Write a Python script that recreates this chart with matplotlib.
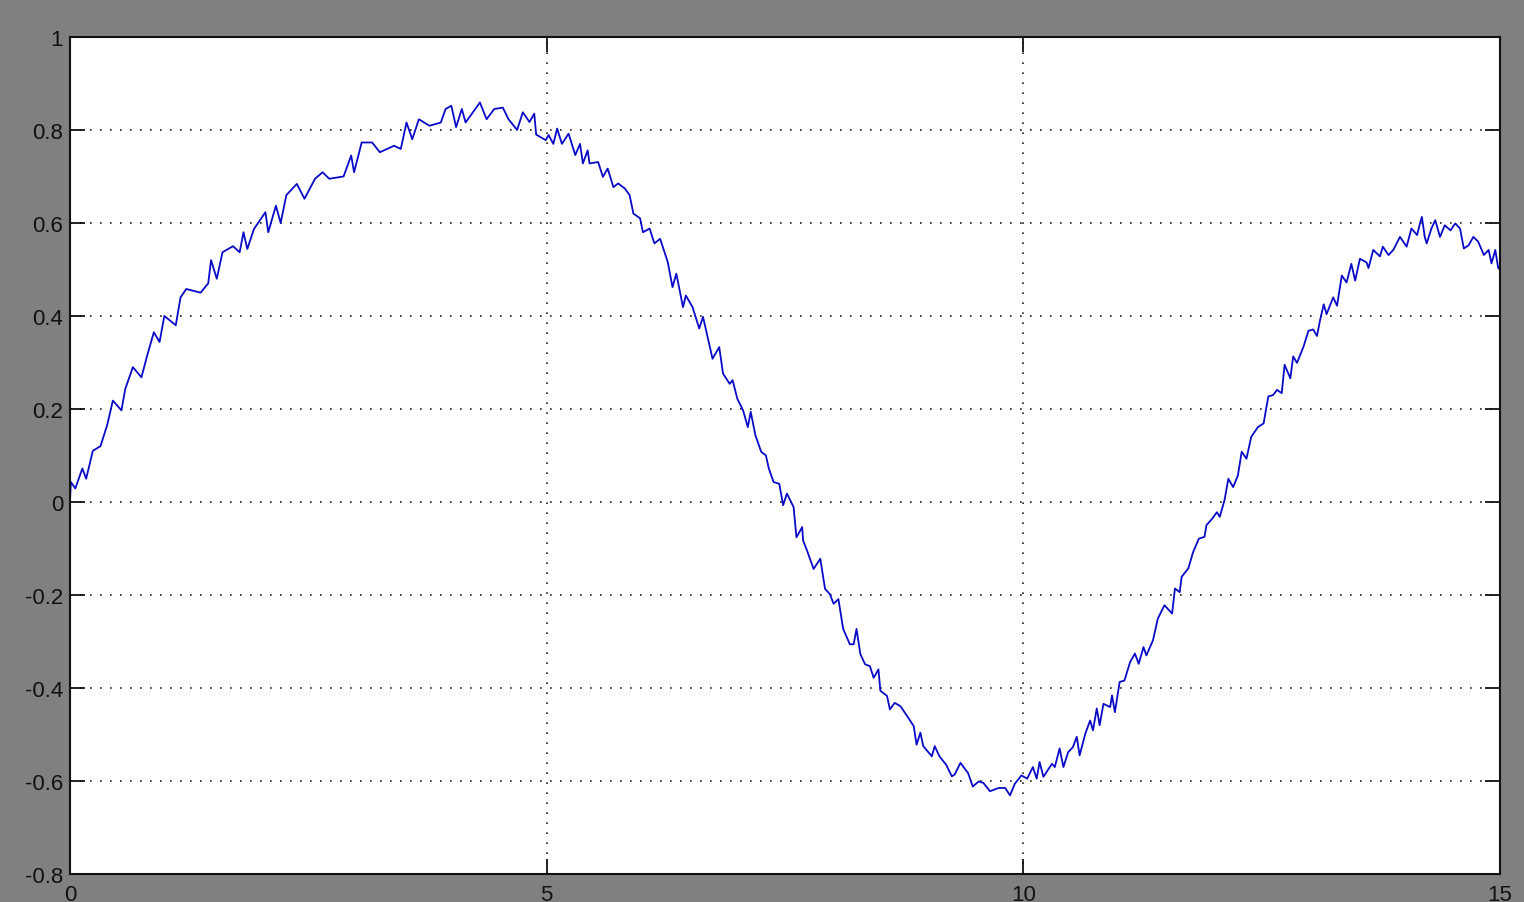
import matplotlib
matplotlib.use("Agg")
import matplotlib.pyplot as plt

plt.rcParams['font.family'] = ['Liberation Sans', 'DejaVu Sans']

# time (s) and signal values
t = [0.0, 0.01, 0.056, 0.13, 0.17, 0.24, 0.32, 0.39, 0.45, 0.54, 0.58, 0.66, 0.75, 0.81, 0.88, 0.94,
     0.99, 1.11, 1.16, 1.22, 1.37, 1.45, 1.48, 1.54, 1.60, 1.71, 1.78, 1.82, 1.86, 1.93, 2.05, 2.08,
     2.16, 2.21, 2.27, 2.38, 2.46, 2.57, 2.65, 2.72, 2.87, 2.95, 2.98, 3.06, 3.17, 3.25, 3.40, 3.47,
     3.53, 3.59, 3.66, 3.77, 3.89, 3.94, 4.00, 4.05, 4.11, 4.15, 4.30, 4.37, 4.45, 4.54, 4.60, 4.69,
     4.75,
     4.82, 4.87, 4.89, 4.99, 5.02, 5.07, 5.11, 5.16, 5.23, 5.30, 5.35, 5.38, 5.43, 5.45, 5.54, 5.59,
     5.64, 5.70, 5.75, 5.82, 5.87, 5.91, 5.98, 6.01, 6.08, 6.13, 6.19, 6.27, 6.32, 6.36, 6.43, 6.46,
     6.53, 6.60, 6.64, 6.74, 6.81, 6.85, 6.92, 6.95, 7.00, 7.06, 7.11, 7.14, 7.19, 7.25, 7.30, 7.33,
     7.38, 7.44,
     7.48, 7.52, 7.59, 7.62, 7.68, 7.69, 7.73, 7.80, 7.87, 7.92, 7.97, 8.01, 8.06, 8.11, 8.18, 8.22,
     8.25, 8.29, 8.34, 8.39, 8.43, 8.48, 8.50, 8.57, 8.60, 8.65, 8.71, 8.78, 8.85, 8.88, 8.92, 8.95,
     9.04, 9.07, 9.12, 9.19, 9.25, 9.28, 9.34, 9.42, 9.47, 9.53, 9.58, 9.65, 9.74,
     9.81, 9.86, 9.91, 9.98, 10.04, 10.10, 10.14, 10.17, 10.21, 10.30, 10.33, 10.38, 10.42, 10.47,
     10.52, 10.56, 10.59, 10.65, 10.70, 10.73, 10.77, 10.80, 10.84, 10.91, 10.93, 10.96, 11.01, 11.06,
     11.12, 11.17, 11.21, 11.26, 11.29, 11.36, 11.41, 11.48, 11.56, 11.59, 11.64, 11.66, 11.73, 11.78,
     11.84, 11.90, 11.92, 11.98, 12.03, 12.06, 12.11, 12.15, 12.20, 12.25, 12.29, 12.34, 12.39, 12.46,
     12.52, 12.55, 12.57, 12.62, 12.66, 12.71, 12.74, 12.80, 12.83, 12.87, 12.94, 12.99, 13.04, 13.08,
     13.11, 13.15, 13.18, 13.25, 13.29, 13.34, 13.39, 13.44, 13.48, 13.53, 13.60,
     13.62, 13.67, 13.74, 13.77, 13.83, 13.88, 13.95, 14.02, 14.07, 14.13, 14.16, 14.18, 14.21, 14.23,
     14.28, 14.32, 14.37, 14.42, 14.48, 14.53, 14.58, 14.62, 14.67, 14.72, 14.77, 14.83, 14.88, 14.91,
     14.95, 14.98, 15.0]

y = [0.0, 0.043, 0.029, 0.072, 0.05, 0.11, 0.12, 0.165, 0.218, 0.197, 0.243, 0.29, 0.268, 0.315, 0.365, 0.344,
     0.40, 0.38, 0.44, 0.458, 0.45, 0.47, 0.52, 0.48, 0.537, 0.55, 0.537, 0.58, 0.544, 0.587, 0.623, 0.58,
     0.637, 0.60, 0.66, 0.684, 0.652, 0.695, 0.709, 0.695, 0.70, 0.745, 0.709, 0.773, 0.773, 0.752, 0.766, 0.759,
     0.816, 0.78, 0.823, 0.809, 0.816, 0.845, 0.852, 0.806, 0.845, 0.816, 0.859, 0.823, 0.845, 0.848, 0.823, 0.80,
     0.838,
     0.817, 0.835, 0.79, 0.778, 0.789, 0.77, 0.803, 0.77, 0.792, 0.746, 0.77, 0.728, 0.756, 0.728, 0.731, 0.699,
     0.717, 0.677, 0.685, 0.674, 0.66, 0.62, 0.61, 0.58, 0.588, 0.556, 0.566, 0.516, 0.462, 0.491, 0.419, 0.444,
     0.419, 0.373, 0.398, 0.308, 0.333, 0.276, 0.254, 0.262, 0.222, 0.197, 0.161, 0.194, 0.143, 0.108, 0.10, 0.072,
     0.043, 0.039,
     -0.007, 0.018, -0.011, -0.076, -0.054, -0.083, -0.104, -0.144, -0.122, -0.187, -0.198, -0.219, -0.209, -0.273, -0.306, -0.306,
     -0.273, -0.327, -0.349, -0.353, -0.378, -0.36, -0.406, -0.417, -0.446, -0.432, -0.439, -0.46, -0.482, -0.522, -0.496, -0.525,
     -0.547, -0.525, -0.547, -0.565, -0.59, -0.586, -0.561, -0.583, -0.612, -0.601, -0.604, -0.622, -0.615,
     -0.615, -0.631, -0.606, -0.588, -0.595, -0.57, -0.595, -0.559, -0.591, -0.563, -0.57, -0.53, -0.57, -0.538,
     -0.527, -0.505, -0.545, -0.498, -0.47, -0.491, -0.444, -0.48, -0.434, -0.441, -0.416, -0.452, -0.387, -0.384,
     -0.344, -0.326, -0.348, -0.312, -0.33, -0.297, -0.251, -0.222, -0.24, -0.186, -0.194, -0.161, -0.143, -0.108,
     -0.079, -0.075, -0.05, -0.036, -0.022, -0.032, 0.004, 0.05, 0.032, 0.057, 0.108, 0.093, 0.14, 0.161,
     0.169, 0.205, 0.227, 0.23, 0.241, 0.234, 0.295, 0.266, 0.313, 0.299, 0.335, 0.368, 0.371, 0.357,
     0.389, 0.425, 0.404, 0.44, 0.422, 0.487, 0.472, 0.512, 0.476, 0.523, 0.515,
     0.503, 0.542, 0.528, 0.549, 0.531, 0.542, 0.57, 0.549, 0.588, 0.574, 0.599, 0.613, 0.57, 0.556,
     0.588, 0.606, 0.57, 0.595, 0.584, 0.599, 0.588, 0.545, 0.552, 0.57, 0.56, 0.531, 0.542, 0.513,
     0.542, 0.503, 0.50]

xticks = [0, 5, 10, 15]
yticks = [-0.8, -0.6, -0.4, -0.2, 0, 0.2, 0.4, 0.6, 0.8, 1]
ylabels = ['-0.8', '-0.6', '-0.4', '-0.2', '0', '0.2', '0.4', '0.6', '0.8', '1']

fig = plt.figure(figsize=(15.24, 9.03), dpi=100, facecolor='#808080')
ax = fig.add_axes([0.0459, 0.031, 0.9384, 0.927])
ax.set_facecolor('white')

ax.plot(t, y, color='#0a0ac8', lw=1.3)

ax.set_xlim(0, 15)
ax.set_ylim(-0.8, 1)
ax.set_xticks(xticks)
ax.set_xticklabels([str(v) for v in xticks])
ax.set_yticks(yticks)
ax.set_yticklabels(ylabels)

ax.grid(True, color='#222222', lw=1.2, linestyle=(0, (1, 5)))
ax.tick_params(direction='in', length=11, width=1.3, top=True, right=True,
               labelsize=16, colors='#111111')
ax.tick_params(axis='x', pad=7)
ax.tick_params(axis='y', pad=5)
for s in ax.spines.values():
    s.set_linewidth(1.5)
    s.set_color('#111111')

fig.savefig('out.png', dpi=100, facecolor=fig.get_facecolor())
